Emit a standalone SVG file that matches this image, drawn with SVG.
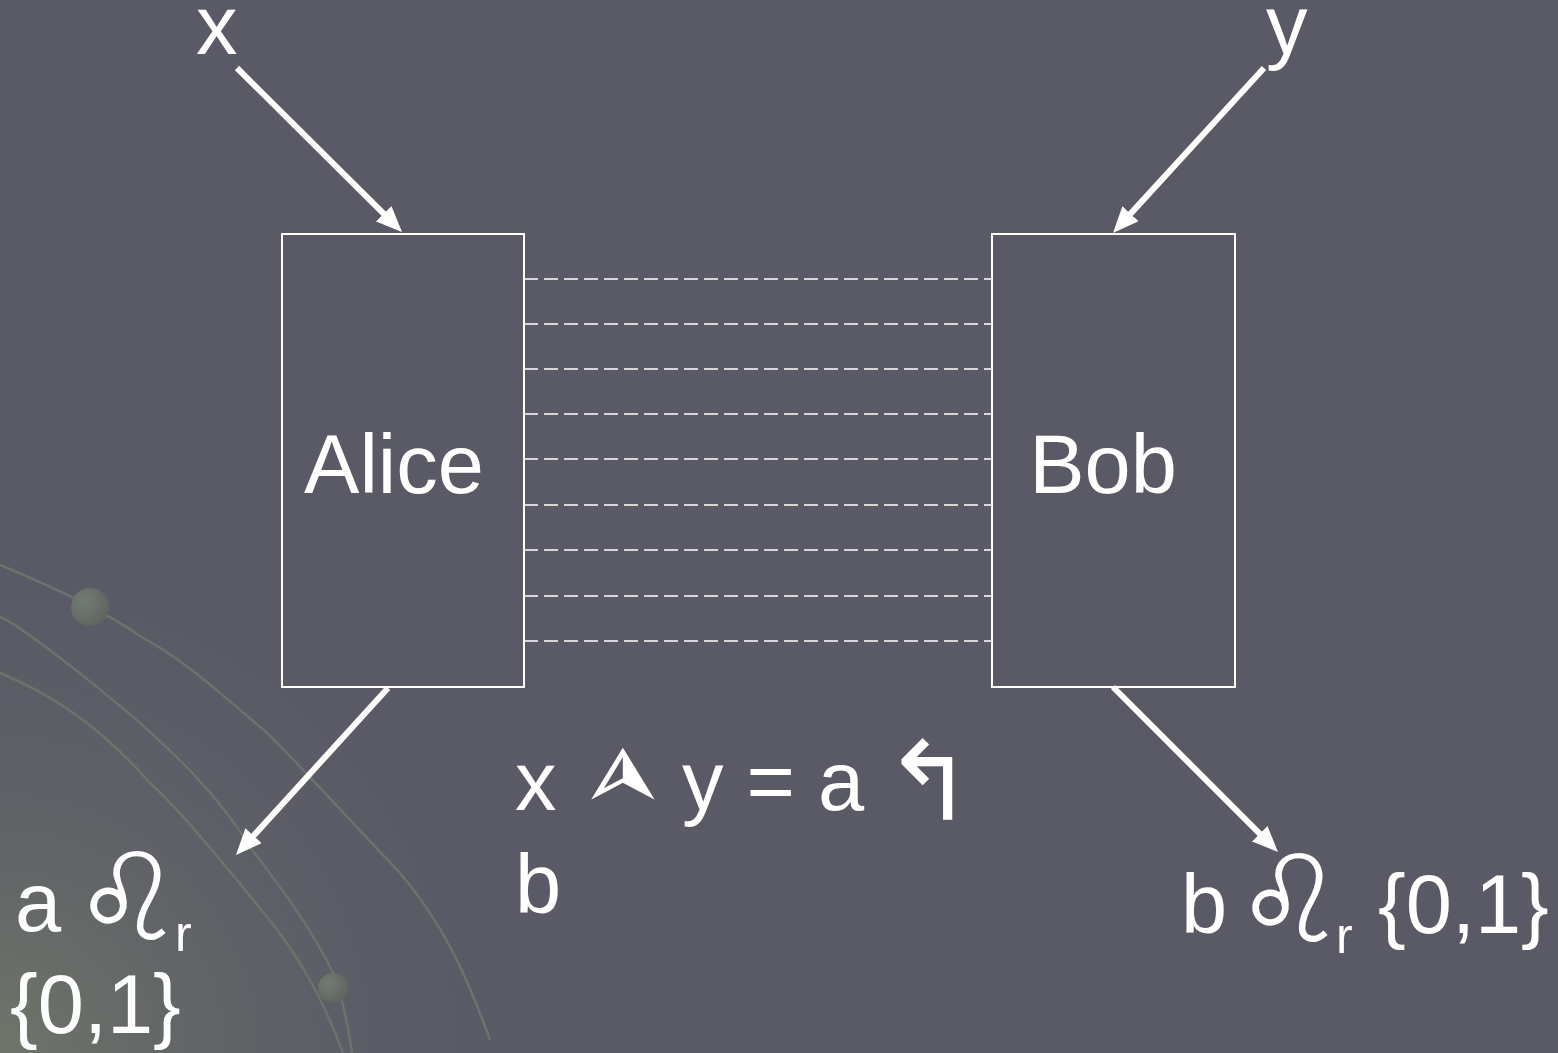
<svg xmlns="http://www.w3.org/2000/svg" width="1558" height="1053" viewBox="0 0 1558 1053">
<style>
  .t { font-family: "Liberation Sans", Arial, sans-serif; font-size: 83px; fill: #ffffff; }
  .sym { font-family: "DejaVu Sans", sans-serif; fill: #ffffff; }
  .leo { font-family: "DejaVu Sans", sans-serif; font-weight: bold; font-size: 122px; fill: #ffffff; text-anchor: middle; }
  .sub { font-size: 50px; }
  .box { fill: none; stroke: #ffffff; stroke-width: 2; }
  .dash { stroke: #ffffff; stroke-width: 1.6; stroke-dasharray: 14 6; fill: none; }
  .arrow { stroke: #ffffff; stroke-width: 6; fill: none; marker-end: url(#ah); }
  .deco { stroke: #6a746a; stroke-width: 2.5; fill: none; }
</style>
<defs>
  <marker id="ah" markerUnits="userSpaceOnUse" viewBox="0 0 26 22" markerWidth="26" markerHeight="22" refX="11" refY="11" orient="auto">
    <path d="M0,0 L26,11 L0,22 z" fill="#ffffff"/>
  </marker>
  <radialGradient id="glow" cx="0" cy="1053" r="520" gradientUnits="userSpaceOnUse">
    <stop offset="0" stop-color="#6f7669" stop-opacity="1"/>
    <stop offset="1" stop-color="#5a5a66" stop-opacity="0"/>
  </radialGradient>
  <radialGradient id="dot" cx="0.35" cy="0.35" r="0.7">
    <stop offset="0" stop-color="#737c72"/>
    <stop offset="1" stop-color="#5e6560"/>
  </radialGradient>
</defs>
<rect x="0" y="0" width="1558" height="1053" fill="#5a5a66"/>
<rect x="0" y="500" width="600" height="553" fill="url(#glow)"/>
<g id="decoration">
  <path class="deco" d="M0,565 C60,590 110,615 140,636 C175,655 200,675 267,733 C300,765 340,810 400,873 C440,920 465,970 490,1040"/>
  <path class="deco" d="M0,617 C20,625 90,680 140,723 C170,750 215,790 250,847 C275,880 310,925 333,973 C342,995 348,1025 352,1053"/>
  <path class="deco" d="M0,673 C40,690 90,715 150,783 C180,810 225,865 267,917 C290,945 320,990 343,1053"/>
  <circle cx="90" cy="607" r="19" fill="url(#dot)"/>
  <circle cx="333" cy="988" r="15" fill="url(#dot)"/>
</g>
<g id="connectors">
  <line class="dash" x1="524" y1="279" x2="992" y2="279"/>
  <line class="dash" x1="524" y1="324" x2="992" y2="324"/>
  <line class="dash" x1="524" y1="369" x2="992" y2="369"/>
  <line class="dash" x1="524" y1="414" x2="992" y2="414"/>
  <line class="dash" x1="524" y1="459" x2="992" y2="459"/>
  <line class="dash" x1="524" y1="505" x2="992" y2="505"/>
  <line class="dash" x1="524" y1="550" x2="992" y2="550"/>
  <line class="dash" x1="524" y1="596" x2="992" y2="596"/>
  <line class="dash" x1="524" y1="641" x2="992" y2="641"/>
  <line class="arrow" x1="237" y1="68" x2="391.4" y2="221.4"/>
  <line class="arrow" x1="1264" y1="68" x2="1123.1" y2="221.9"/>
  <line class="arrow" x1="388" y1="688" x2="246.1" y2="843.9"/>
  <line class="arrow" x1="1113" y1="687" x2="1267.4" y2="841.4"/>
</g>
<g id="alice">
  <rect class="box" x="282" y="234" width="242" height="453"/>
  <text class="t" x="394" y="493" text-anchor="middle">Alice</text>
</g>
<g id="bob">
  <rect class="box" x="992" y="234" width="243" height="453"/>
  <text class="t" x="1103" y="493" text-anchor="middle">Bob</text>
</g>
<g id="input-x">
  <text class="t" x="196" y="54">x</text>
</g>
<g id="input-y">
  <text class="t" x="1266" y="54">y</text>
</g>
<g id="condition">
  <text class="t" x="515" y="810">x</text>
  <text class="sym" x="0" y="0" font-size="90" text-anchor="middle" dominant-baseline="central" transform="translate(618 776) scale(1.6 0.85) rotate(-90)">➢</text>
  <text class="t" x="682" y="810">y = a</text>
  <text class="sym" x="929" y="782" font-size="110" text-anchor="middle" dominant-baseline="central">↰</text>
  <text class="t" x="515" y="913">b</text>
</g>
<g id="output-a">
  <text class="t" x="15" y="931">a</text>
  <text class="leo" x="128" y="940">♌</text>
  <text class="t sub" x="175" y="951">r</text>
  <text class="t" x="10" y="1033">{0,1}</text>
</g>
<g id="output-b">
  <text class="t" x="1181" y="933">b</text>
  <text class="leo" x="1290" y="942">♌</text>
  <text class="t sub" x="1336" y="953">r</text>
  <text class="t" x="1378" y="933">{0,1}</text>
</g>
</svg>
